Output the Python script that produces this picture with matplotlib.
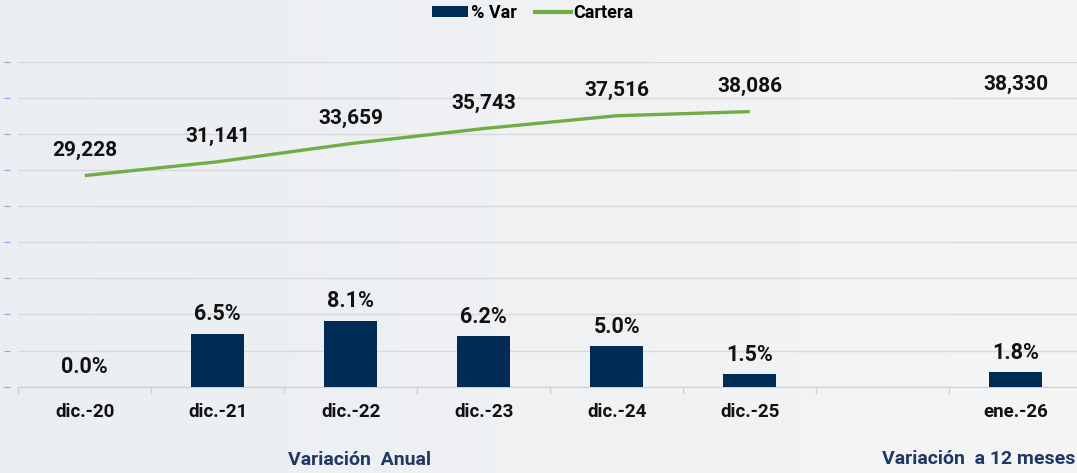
import numpy as np
import matplotlib
matplotlib.use("Agg")
from matplotlib import pyplot as plt
from matplotlib.patches import Patch
from matplotlib.lines import Line2D

plt.rcParams['font.family'] = ['Roboto', 'DejaVu Sans']

# Data
categories = ['dic.-20', 'dic.-21', 'dic.-22', 'dic.-23', 'dic.-24', 'dic.-25', '', 'ene.-26']
pct_var = [0.0, 6.5, 8.1, 6.2, 5.0, 1.5, np.nan, 1.8]
cartera = [29228, 31141, 33659, 35743, 37516, 38086, np.nan, 38330]

navy = '#002B55'
green = '#70AD47'
x = np.arange(len(categories))

fig = plt.figure(figsize=(10.77, 4.73), dpi=100)

# soft grey background
bg = fig.add_axes([0, 0, 1, 1], zorder=-10)
grad = np.linspace(0, 1, 256)
c0 = np.array([0.918, 0.933, 0.949])
c1 = np.array([0.960, 0.960, 0.962])
img = c0[None, :] + (c1 - c0)[None, :] * grad[:, None]
bg.imshow(img[None, :, :], aspect='auto', extent=[0, 1, 0, 1])
bg.axis('off')

ax = fig.add_axes([18.3 / 1077, 1 - 386.6 / 473, 1064 / 1077, 324.9 / 473])
ax.set_facecolor('none')

# bars: % Var
ax.bar(x, pct_var, width=0.4, color=navy, zorder=3)
ax.set_ylim(0, 40)
ax.set_yticks(np.linspace(0, 40, 10))
ax.set_yticklabels([])
ax.grid(axis='y', color='#D9D9D9', linewidth=1.0, zorder=0)
ax.set_axisbelow(True)
ax.set_xlim(-0.5, len(categories) - 0.5)

for xi, v in zip(x, pct_var):
    if np.isnan(v):
        continue
    ax.annotate(f"{v:.1f}%", (xi, v), xytext=(0, 14), textcoords='offset points',
                ha='center', va='center', fontsize=15.5, fontweight='bold', color='#111111')

# x axis: labels at centres, tick marks at category boundaries
ax.set_xticks(x)
ax.set_xticklabels(categories, fontsize=13.5, fontweight='bold', color='#111111')
ax.tick_params(axis='x', which='major', length=0, pad=12)
ax.set_xticks(np.arange(-0.5, len(categories), 1), minor=True)
ax.tick_params(axis='x', which='minor', length=5, color='#D0D0D0', width=1)
ax.tick_params(axis='y', length=4, color='#8EA9DB', width=0.8)

for side in ['top', 'right', 'left']:
    ax.spines[side].set_visible(False)
ax.spines['left'].set_position(('outward', 6))
ax.spines['bottom'].set_color('#D0D0D0')

# line: Cartera
ax2 = ax.twinx()
ax2.plot(x, cartera, color=green, linewidth=2.4, solid_capstyle='butt')
ax2.set_ylim(0, 45000)
ax2.set_yticks([])
for side in ax2.spines:
    ax2.spines[side].set_visible(False)

for xi, v in zip(x, cartera):
    if np.isnan(v):
        continue
    ax2.annotate(f"{v:,.0f}", (xi, v), xytext=(0, 18), textcoords='offset points',
                 ha='center', va='center', fontsize=15, fontweight='bold', color='#111111')

# legend
handles = [Patch(facecolor=navy, edgecolor='none'),
           Line2D([0], [0], color=green, linewidth=3)]
fig.legend(handles, ['% Var', 'Cartera'], loc='center', bbox_to_anchor=(533 / 1077, 1 - 13 / 473),
           ncol=2, frameon=False, prop={'weight': 'bold', 'size': 13},
           handlelength=2.0, handletextpad=0.15, columnspacing=1.0, handleheight=0.6)

# section captions
fig.text(360 / 1077, 1 - 460 / 473, 'Variación  Anual', ha='center', va='center',
         fontsize=14, fontweight='bold', color='#1F3864')
fig.text(979 / 1077, 1 - 459 / 473, 'Variación  a 12 meses', ha='center', va='center',
         fontsize=14, fontweight='bold', color='#1F3864')

fig.savefig('out.png', dpi=100)
